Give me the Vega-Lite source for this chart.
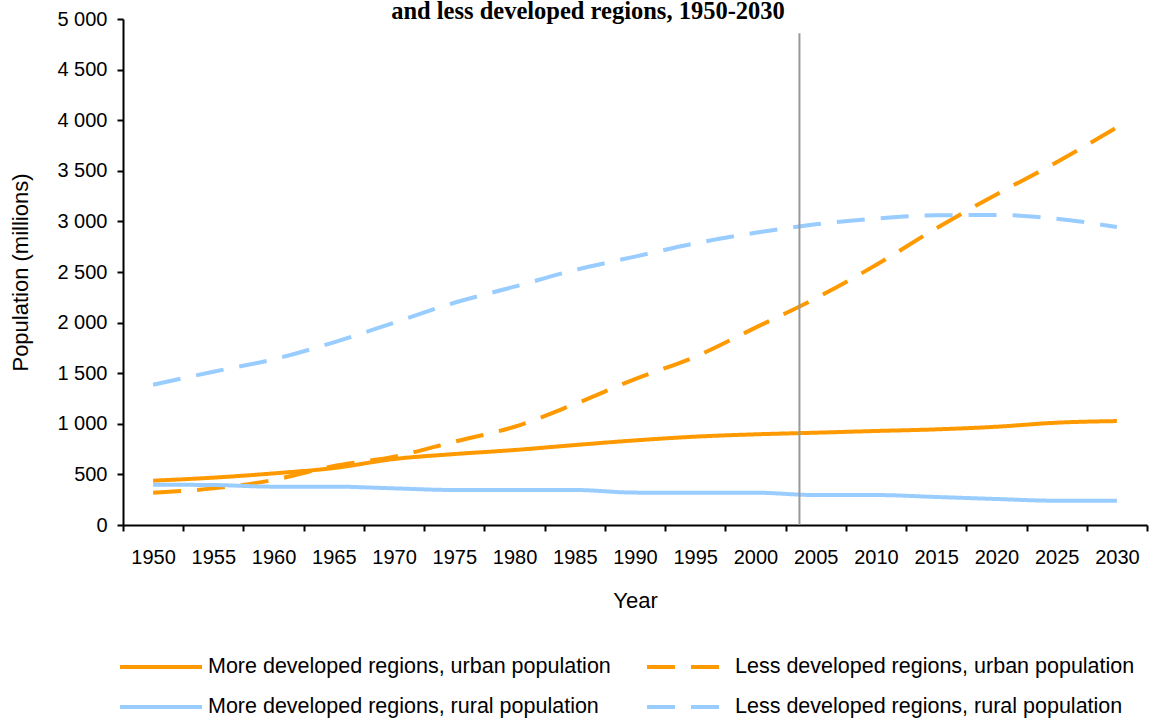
{
  "$schema": "https://vega.github.io/schema/vega-lite/v6.json",
  "width": 1024,
  "height": 506,
  "autosize": {"type": "none"},
  "padding": {"left": 123, "top": 19, "right": 7, "bottom": 196},
  "background": "white",
  "title": {
    "text": "and less developed regions, 1950-2030",
    "font": "Liberation Serif",
    "fontSize": 24.5,
    "fontWeight": "bold",
    "color": "black",
    "anchor": "middle",
    "baseline": "alphabetic",
    "offset": -34,
    "dx": -47
  },
  "config": {"view": {"stroke": null}, "font": "Liberation Sans"},
  "datasets": {
    "pop": [
      {"year": 1950, "series": "More developed regions, urban population", "value": 438},
      {"year": 1955, "series": "More developed regions, urban population", "value": 468},
      {"year": 1960, "series": "More developed regions, urban population", "value": 510},
      {"year": 1965, "series": "More developed regions, urban population", "value": 563},
      {"year": 1970, "series": "More developed regions, urban population", "value": 652},
      {"year": 1975, "series": "More developed regions, urban population", "value": 701},
      {"year": 1980, "series": "More developed regions, urban population", "value": 741},
      {"year": 1985, "series": "More developed regions, urban population", "value": 790},
      {"year": 1990, "series": "More developed regions, urban population", "value": 836},
      {"year": 1995, "series": "More developed regions, urban population", "value": 873},
      {"year": 2000, "series": "More developed regions, urban population", "value": 896},
      {"year": 2005, "series": "More developed regions, urban population", "value": 912},
      {"year": 2010, "series": "More developed regions, urban population", "value": 929},
      {"year": 2015, "series": "More developed regions, urban population", "value": 945},
      {"year": 2020, "series": "More developed regions, urban population", "value": 971},
      {"year": 2025, "series": "More developed regions, urban population", "value": 1011},
      {"year": 2030, "series": "More developed regions, urban population", "value": 1027},

      {"year": 1950, "series": "Less developed regions, urban population", "value": 319},
      {"year": 1955, "series": "Less developed regions, urban population", "value": 362},
      {"year": 1960, "series": "Less developed regions, urban population", "value": 445},
      {"year": 1965, "series": "Less developed regions, urban population", "value": 583},
      {"year": 1970, "series": "Less developed regions, urban population", "value": 675},
      {"year": 1975, "series": "Less developed regions, urban population", "value": 823},
      {"year": 1980, "series": "Less developed regions, urban population", "value": 971},
      {"year": 1985, "series": "Less developed regions, urban population", "value": 1195},
      {"year": 1990, "series": "Less developed regions, urban population", "value": 1442},
      {"year": 1995, "series": "Less developed regions, urban population", "value": 1663},
      {"year": 2000, "series": "Less developed regions, urban population", "value": 1950},
      {"year": 2005, "series": "Less developed regions, urban population", "value": 2240},
      {"year": 2010, "series": "Less developed regions, urban population", "value": 2569},
      {"year": 2015, "series": "Less developed regions, urban population", "value": 2931},
      {"year": 2020, "series": "Less developed regions, urban population", "value": 3267},
      {"year": 2025, "series": "Less developed regions, urban population", "value": 3584},
      {"year": 2030, "series": "Less developed regions, urban population", "value": 3929},

      {"year": 1950, "series": "More developed regions, rural population", "value": 398},
      {"year": 1955, "series": "More developed regions, rural population", "value": 395},
      {"year": 1960, "series": "More developed regions, rural population", "value": 379},
      {"year": 1965, "series": "More developed regions, rural population", "value": 379},
      {"year": 1970, "series": "More developed regions, rural population", "value": 362},
      {"year": 1975, "series": "More developed regions, rural population", "value": 346},
      {"year": 1980, "series": "More developed regions, rural population", "value": 346},
      {"year": 1985, "series": "More developed regions, rural population", "value": 346},
      {"year": 1990, "series": "More developed regions, rural population", "value": 320},
      {"year": 1995, "series": "More developed regions, rural population", "value": 319},
      {"year": 2000, "series": "More developed regions, rural population", "value": 319},
      {"year": 2005, "series": "More developed regions, rural population", "value": 296},
      {"year": 2010, "series": "More developed regions, rural population", "value": 296},
      {"year": 2015, "series": "More developed regions, rural population", "value": 277},
      {"year": 2020, "series": "More developed regions, rural population", "value": 257},
      {"year": 2025, "series": "More developed regions, rural population", "value": 240},
      {"year": 2030, "series": "More developed regions, rural population", "value": 240},

      {"year": 1950, "series": "Less developed regions, rural population", "value": 1386},
      {"year": 1955, "series": "Less developed regions, rural population", "value": 1515},
      {"year": 1960, "series": "Less developed regions, rural population", "value": 1637},
      {"year": 1965, "series": "Less developed regions, rural population", "value": 1805},
      {"year": 1970, "series": "Less developed regions, rural population", "value": 1999},
      {"year": 1975, "series": "Less developed regions, rural population", "value": 2196},
      {"year": 1980, "series": "Less developed regions, rural population", "value": 2355},
      {"year": 1985, "series": "Less developed regions, rural population", "value": 2519},
      {"year": 1990, "series": "Less developed regions, rural population", "value": 2652},
      {"year": 1995, "series": "Less developed regions, rural population", "value": 2783},
      {"year": 2000, "series": "Less developed regions, rural population", "value": 2888},
      {"year": 2005, "series": "Less developed regions, rural population", "value": 2971},
      {"year": 2010, "series": "Less developed regions, rural population", "value": 3027},
      {"year": 2015, "series": "Less developed regions, rural population", "value": 3060},
      {"year": 2020, "series": "Less developed regions, rural population", "value": 3063},
      {"year": 2025, "series": "Less developed regions, rural population", "value": 3027},
      {"year": 2030, "series": "Less developed regions, rural population", "value": 2944}
    ],
    "marker": [
      {"year": 2005, "low": 0, "high": 4860}
    ]
  },
  "layer": [
    {
      "data": {"name": "pop"},
      "mark": {"type": "line", "strokeWidth": 4, "interpolate": "monotone"},
      "encoding": {
        "x": {
          "field": "year",
          "type": "ordinal",
          "scale": {"type": "band", "paddingInner": 0, "paddingOuter": 0},
          "axis": {
            "title": "Year",
            "titleFont": "Liberation Sans",
            "titleFontSize": 22,
            "titleFontWeight": "normal",
            "titleColor": "black",
            "titlePadding": 23,
            "labelAngle": 0,
            "labelFont": "Liberation Sans",
            "labelFontSize": 20,
            "labelColor": "black",
            "labelPadding": 16,
            "tickBand": "extent",
            "tickSize": 6,
            "tickWidth": 2,
            "tickColor": "black",
            "domainColor": "black",
            "domainWidth": 2,
            "grid": false
          }
        },
        "y": {
          "field": "value",
          "type": "quantitative",
          "scale": {"domain": [0, 5000], "nice": false},
          "axis": {
            "title": "Population (millions)",
            "titleFont": "Liberation Sans",
            "titleFontSize": 22,
            "titleFontWeight": "normal",
            "titleColor": "black",
            "titlePadding": 24,
            "values": [0, 500, 1000, 1500, 2000, 2500, 3000, 3500, 4000, 4500, 5000],
            "labelExpr": "replace(format(datum.value, ','), ',', ' ')",
            "labelFont": "Liberation Sans",
            "labelFontSize": 20,
            "labelColor": "black",
            "labelPadding": 10,
            "tickSize": 6,
            "tickWidth": 2,
            "tickColor": "black",
            "domainColor": "black",
            "domainWidth": 2,
            "grid": false
          }
        },
        "color": {
          "field": "series",
          "type": "nominal",
          "scale": {
            "domain": [
              "More developed regions, urban population",
              "More developed regions, rural population",
              "Less developed regions, urban population",
              "Less developed regions, rural population"
            ],
            "range": ["#FF9900", "#99CCFF", "#FF9900", "#99CCFF"]
          },
          "legend": {
            "orient": "none",
            "legendX": -5,
            "legendY": 637,
            "columns": 2,
            "title": null,
            "symbolType": "stroke",
            "symbolSize": 6724,
            "symbolStrokeWidth": 4,
            "clipHeight": 22,
            "labelFont": "Liberation Sans",
            "labelFontSize": 21.5,
            "labelColor": "black",
            "labelOffset": 4,
            "labelLimit": 600,
            "columnPadding": 34,
            "rowPadding": 18
          }
        },
        "strokeDash": {
          "field": "series",
          "type": "nominal",
          "scale": {
            "domain": [
              "More developed regions, urban population",
              "More developed regions, rural population",
              "Less developed regions, urban population",
              "Less developed regions, rural population"
            ],
            "range": [[1, 0], [1, 0], [28, 16], [28, 16]]
          },
          "legend": {
            "orient": "none",
            "legendX": -5,
            "legendY": 637,
            "columns": 2,
            "title": null,
            "symbolType": "stroke",
            "symbolSize": 6724,
            "symbolStrokeWidth": 4,
            "clipHeight": 22,
            "labelFont": "Liberation Sans",
            "labelFontSize": 21.5,
            "labelColor": "black",
            "labelOffset": 4,
            "labelLimit": 600,
            "columnPadding": 34,
            "rowPadding": 18
          }
        }
      }
    },
    {
      "data": {"name": "marker"},
      "mark": {"type": "rule", "color": "#999999", "strokeWidth": 2},
      "encoding": {
        "x": {"field": "year", "type": "ordinal", "bandPosition": 0.23},
        "y": {"field": "low", "type": "quantitative"},
        "y2": {"field": "high"}
      }
    }
  ]
}
